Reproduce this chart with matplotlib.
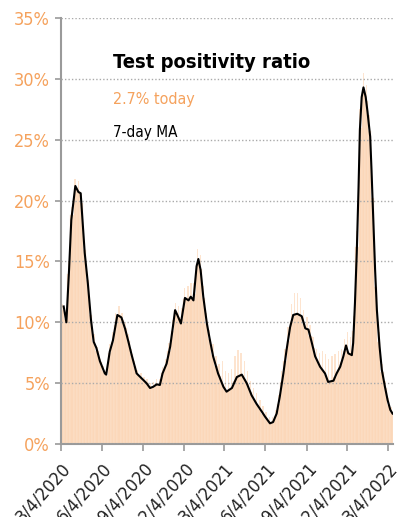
import matplotlib
matplotlib.use("Agg")
import matplotlib.pyplot as plt
import pandas as pd

# weekly test positivity (%), one bar per week starting 3/4/2020
week_start = "2020-03-04"
weekly_pct = [
    11.0, 10.3, 14.0, 18.8, 21.0, 20.8, 19.8, 15.9, 13.5, 10.6,
    8.4, 7.6, 6.7, 6.0, 5.7, 7.5, 8.4, 9.8, 10.6, 10.2,
    9.5, 8.5, 7.4, 6.4, 5.7, 5.45, 5.2, 4.95, 4.6, 4.7,
    4.9, 4.85, 5.8, 6.4, 7.6, 9.3, 10.95, 10.4, 10.3, 11.9,
    11.8, 12.1, 12.3, 14.8, 14.4, 12.0, 9.9, 8.6, 7.35, 6.4,
    5.6, 4.9, 4.4, 4.4, 4.6, 5.2, 5.55, 5.7, 5.35, 4.9,
    4.25, 3.7, 3.3, 2.9, 2.5, 2.1, 1.75, 1.75, 2.3, 3.3,
    5.1, 6.8, 8.5, 10.0, 10.6, 10.7, 10.55, 9.9, 9.45, 8.9,
    7.9, 7.0, 6.45, 6.1, 5.7, 5.1, 5.15, 5.5, 6.1, 6.7,
    7.6, 7.6, 7.35, 9.3, 16.2, 26.0, 29.2, 28.2, 25.7, 20.2,
    12.9, 8.4, 5.9, 4.6, 3.2, 2.6,
]
# highest single day of each week (%)
weekly_high = [
    11.5, 10.8, 15.0, 19.5, 21.8, 21.6, 20.5, 16.5, 14.0, 11.0,
    9.0, 8.0, 7.0, 6.4, 6.2, 8.2, 9.2, 10.8, 11.3, 10.8,
    10.0, 9.0, 7.8, 6.8, 6.1, 5.8, 5.5, 5.3, 5.0, 5.1,
    5.3, 5.3, 6.3, 7.0, 8.3, 10.2, 11.6, 11.3, 11.2, 12.8,
    13.0, 13.2, 13.2, 16.0, 15.5, 13.0, 10.8, 9.4, 8.2, 7.2,
    6.6, 6.8, 6.0, 5.8, 6.2, 7.2, 7.7, 7.5, 6.8, 6.0,
    5.2, 4.6, 4.2, 3.6, 3.1, 2.6, 2.2, 2.2, 2.8, 4.0,
    6.0, 7.8, 9.6, 11.5, 12.4, 12.4, 12.0, 11.0, 10.4, 9.8,
    8.8, 7.8, 7.5, 7.6, 7.4, 7.0, 7.2, 7.4, 7.6, 7.8,
    8.6, 9.2, 8.8, 10.5, 17.5, 27.5, 30.5, 29.5, 27.0, 21.5,
    14.0, 9.2, 6.6, 5.2, 3.8, 3.0,
]

# 7-day moving average (%)
ma_dates = [
    "2020-03-10", "2020-03-16", "2020-03-22", "2020-03-27", "2020-04-05",
    "2020-04-12", "2020-04-17", "2020-04-26", "2020-05-03", "2020-05-10",
    "2020-05-16", "2020-05-22", "2020-05-30", "2020-06-10", "2020-06-13",
    "2020-06-21", "2020-06-28", "2020-07-08", "2020-07-17", "2020-07-25",
    "2020-08-01", "2020-08-09", "2020-08-20", "2020-08-31", "2020-09-11",
    "2020-09-19", "2020-09-26", "2020-10-04", "2020-10-11", "2020-10-17",
    "2020-10-26", "2020-11-03", "2020-11-09", "2020-11-14", "2020-11-19",
    "2020-11-27", "2020-12-06", "2020-12-14", "2020-12-19", "2020-12-25",
    "2021-01-01", "2021-01-05", "2021-01-10", "2021-01-16", "2021-01-24",
    "2021-01-31", "2021-02-07", "2021-02-18", "2021-03-02", "2021-03-09",
    "2021-03-21", "2021-04-01", "2021-04-12", "2021-04-23", "2021-05-04",
    "2021-05-15", "2021-05-27", "2021-06-03", "2021-06-14", "2021-06-21",
    "2021-06-29", "2021-07-06", "2021-07-14", "2021-07-21", "2021-07-29",
    "2021-08-05", "2021-08-14", "2021-08-24", "2021-09-01", "2021-09-08",
    "2021-09-15", "2021-09-23", "2021-10-04", "2021-10-15", "2021-10-22",
    "2021-11-03", "2021-11-10", "2021-11-18", "2021-11-25", "2021-12-01",
    "2021-12-06", "2021-12-14", "2021-12-17", "2021-12-21", "2021-12-25",
    "2021-12-29", "2022-01-01", "2022-01-05", "2022-01-09", "2022-01-14",
    "2022-01-18", "2022-01-24", "2022-01-27", "2022-01-31", "2022-02-04",
    "2022-02-08", "2022-02-14", "2022-02-19", "2022-02-26", "2022-03-04",
    "2022-03-10", "2022-03-15",
]
ma_pct = [
    11.3, 10.0, 14.3, 18.4, 21.2, 20.7, 20.6, 15.7, 13.2, 10.2,
    8.4, 7.9, 6.8, 5.8, 5.7, 7.6, 8.5, 10.6, 10.4, 9.5,
    8.5, 7.3, 5.8, 5.4, 5.0, 4.6, 4.7, 4.9, 4.85, 5.8,
    6.6, 8.0, 9.6, 11.0, 10.6, 9.9, 12.0, 11.8, 12.1, 11.8,
    14.6, 15.2, 14.3, 12.1, 9.9, 8.5, 7.2, 5.8, 4.7, 4.3,
    4.6, 5.5, 5.7, 5.0, 4.0, 3.3, 2.65, 2.25, 1.7, 1.8,
    2.5, 3.9, 5.8, 7.7, 9.6, 10.6, 10.7, 10.5, 9.5, 9.4,
    8.4, 7.2, 6.35, 5.8, 5.1, 5.2, 5.8, 6.35, 7.2, 8.1,
    7.45, 7.3, 8.3, 11.6, 15.7, 21.1, 25.8, 28.5, 29.3, 28.5,
    27.3, 25.25, 22.5, 18.4, 14.3, 11.0, 8.0, 6.1, 4.7, 3.6,
    2.8, 2.5,
]

tick_dates = ["2020-03-04", "2020-06-04", "2020-09-04", "2020-12-04",
              "2021-03-04", "2021-06-04", "2021-09-04", "2021-12-04",
              "2022-03-04"]
tick_labels = ["3/4/2020", "6/4/2020", "9/4/2020", "12/4/2020",
               "3/4/2021", "6/4/2021", "9/4/2021", "12/4/2021",
               "3/4/2022"]
y_ticks = [0, 5, 10, 15, 20, 25, 30, 35]
y_labels = ["0%", "5%", "10%", "15%", "20%", "25%", "30%", "35%"]

ORANGE = "#f5a25d"
PEACH = "#fbd7b9"
GREY = "#9a9a9a"

plt.rcParams['font.family'] = ['DejaVu Sans']
plt.rcParams['font.stretch'] = 'condensed'

fig = plt.figure(figsize=(4.09, 5.17), dpi=100)
ax = fig.add_axes([61 / 409, 73 / 517, 332 / 409, 426 / 517])

weeks = pd.date_range(week_start, periods=len(weekly_pct), freq="7D")
# the odd high day pokes above the weekly level as a faint spike
ax.bar(weeks + pd.Timedelta(days=2), weekly_high, width=3, align="edge",
       color="#fde4cf", linewidth=0, zorder=1)
ax.bar(weeks, weekly_pct, width=7, align="edge", color=PEACH,
       edgecolor="#fde6d4", linewidth=0.3, zorder=1.5)
ax.plot(pd.to_datetime(ma_dates), ma_pct, color="black", lw=1.5, zorder=3)

ax.set_xlim(pd.Timestamp("2020-03-04"), pd.Timestamp("2022-03-16"))
ax.set_ylim(0, 35)
ax.set_yticks(y_ticks)
ax.set_yticklabels(y_labels)
ax.set_xticks(pd.to_datetime(tick_dates))
ax.set_xticklabels(tick_labels, rotation=48, ha="right", va="top",
                   rotation_mode="anchor")

ax.yaxis.grid(True, linestyle=(0, (1, 1.5)), color="#aaaaaa", lw=1, zorder=2)
ax.set_axisbelow(False)
for s in ["top", "right"]:
    ax.spines[s].set_visible(False)
for s in ["left", "bottom"]:
    ax.spines[s].set_color(GREY)
    ax.spines[s].set_linewidth(1.5)

ax.tick_params(axis="y", colors=GREY, labelcolor=ORANGE, labelsize=13,
               length=4, width=1.2, pad=4)
ax.tick_params(axis="x", colors=GREY, labelcolor="#222222", labelsize=13,
               length=5, width=1.2, pad=6)

fig.text(113 / 409, 1 - 68 / 517, "Test positivity ratio", fontsize=14.5,
         fontweight="bold", va="baseline")
fig.text(113 / 409, 1 - 104 / 517, "2.7% today", color=ORANGE, fontsize=11.5,
         va="baseline")
fig.text(113 / 409, 1 - 137 / 517, "7-day MA", color="black", fontsize=11,
         va="baseline")

fig.savefig("out.png", dpi=100)
